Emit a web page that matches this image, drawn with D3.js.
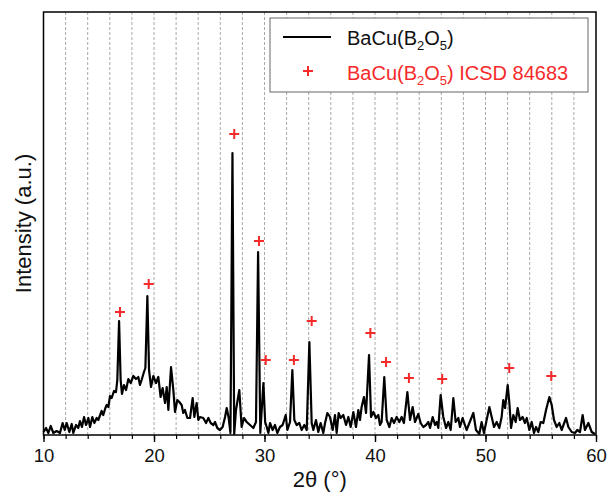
<!DOCTYPE html>
<html>
<head>
<meta charset="utf-8">
<script src="https://cdn.jsdelivr.net/npm/d3@7"></script>
<style>
  body { margin: 0; background: #fff; }
  text { font-family: "Liberation Sans", Arial, sans-serif; }
</style>
</head>
<body>
<div id="chart"></div>
<script>
// measured pattern, 2theta (deg) and intensity (a.u.)
const twoTheta = [
  10.0, 10.23, 10.44, 10.65, 10.89, 11.19, 11.49, 11.73, 11.92, 12.1, 12.34, 12.55, 12.7, 12.94,
  13.15, 13.3, 13.48, 13.67, 13.85, 14.06, 14.21, 14.42, 14.6, 14.81, 14.96, 15.26, 15.41, 15.6,
  15.72, 15.87, 16.02, 16.17, 16.38, 16.56, 16.68, 16.84, 16.98, 17.1, 17.28, 17.47, 17.68, 17.89,
  18.13, 18.37, 18.58, 18.73, 18.88, 19.09, 19.22, 19.4, 19.55, 19.73, 19.94, 20.18, 20.39, 20.6,
  20.78, 21.0, 21.15, 21.3, 21.54, 21.75, 21.9, 22.11, 22.29, 22.5, 22.65, 22.8, 23.02, 23.26,
  23.5, 23.65, 23.86, 24.01, 24.16, 24.46, 24.71, 24.92, 25.13, 25.37, 25.52, 25.73, 25.97, 26.21,
  26.43, 26.58, 26.76, 26.92, 27.1, 27.26, 27.42, 27.72, 27.93, 28.14, 28.39, 28.69, 28.99, 29.23,
  29.42, 29.62, 29.9, 30.06, 30.2, 30.35, 30.5, 30.74, 30.95, 31.16, 31.4, 31.64, 31.92, 32.07,
  32.31, 32.52, 32.7, 32.91, 33.15, 33.36, 33.6, 33.82, 34.06, 34.27, 34.42, 34.66, 34.87, 35.08,
  35.32, 35.48, 35.69, 35.93, 36.17, 36.38, 36.53, 36.71, 36.89, 37.13, 37.38, 37.59, 37.8, 38.04,
  38.28, 38.49, 38.64, 38.79, 39.0, 39.19, 39.46, 39.64, 39.85, 40.09, 40.3, 40.45, 40.6, 40.84,
  41.06, 41.3, 41.51, 41.72, 41.96, 42.2, 42.41, 42.62, 42.93, 43.17, 43.41, 43.62, 43.92, 44.13,
  44.37, 44.62, 44.83, 44.98, 45.22, 45.43, 45.58, 45.73, 45.94, 46.18, 46.43, 46.64, 46.85, 47.09,
  47.3, 47.54, 47.69, 47.93, 48.14, 48.29, 48.54, 48.9, 49.14, 49.44, 49.65, 49.86, 50.35, 50.56,
  50.77, 51.01, 51.25, 51.46, 51.61, 51.77, 52.01, 52.16, 52.31, 52.52, 52.73, 52.91, 53.12, 53.36,
  53.57, 53.73, 53.97, 54.18, 54.39, 54.57, 54.78, 54.99, 55.23, 55.48, 55.78, 55.99, 56.2, 56.44,
  56.68, 56.89, 57.29, 57.5, 57.8, 58.1, 58.31, 58.55, 58.79, 59.0, 59.31, 59.61, 59.91
];
const intensity = [
  3, 7, 2, 9, 2, 4, 2, 12, 5, 12, 3, 11, 2, 10,
  7, 14, 8, 18, 10, 17, 8, 18, 12, 17, 15, 24, 20, 27,
  30, 28, 39, 37, 44, 43, 55, 114, 55, 41, 50, 45, 56, 52,
  59, 56, 58, 50, 55, 63, 67, 139, 65, 48, 59, 52, 58, 38,
  47, 32, 48, 25, 68, 45, 23, 35, 33, 30, 22, 25, 17, 17,
  37, 18, 32, 15, 18, 17, 12, 17, 12, 10, 13, 7, 5, 8,
  18, 27, 17, 2, 282, 1, 25, 45, 8, 17, 13, 10, 7, 13,
  183, 2, 52, 13, 8, 2, 12, 5, 10, 2, 8, 10, 20, 5,
  13, 65, 15, 10, 12, 5, 10, 5, 93, 12, 5, 15, 3, 12,
  2, 12, 22, 18, 5, 20, 2, 22, 17, 20, 10, 18, 8, 23,
  8, 25, 15, 28, 38, 22, 80, 18, 23, 17, 20, 10, 13, 58,
  15, 8, 17, 12, 18, 13, 18, 12, 43, 15, 28, 13, 21, 12,
  8, 10, 13, 7, 18, 10, 13, 7, 40, 18, 7, 13, 5, 37,
  13, 17, 8, 17, 10, 5, 12, 22, 5, 1, 13, 2, 28, 18,
  8, 13, 7, 18, 35, 27, 50, 32, 7, 20, 13, 27, 15, 18,
  12, 17, 5, 13, 2, 8, 3, 13, 12, 25, 38, 30, 15, 8,
  12, 5, 17, 8, 3, 2, 5, 3, 20, 5, 12, 3, 1
];
// reference peaks ICSD 84683
const refTheta = [16.92, 19.52, 27.26, 29.5, 30.11, 32.66, 34.27, 39.58, 41.0, 43.07, 46.08, 52.15, 55.95];
const refIntensity = [123, 151, 301, 194, 75, 75, 114, 102, 73, 57, 56, 67, 59];

const xTicks = [10, 20, 30, 40, 50, 60];

const W = 611, H = 496;
const mLeft = 43.5, mRight = 596, mTop = 12, mBottom = 435;
const red = "#f52a2a";

const svg = d3.select("#chart").append("svg")
  .attr("width", W).attr("height", H);

const x = d3.scaleLinear().domain([10, 60]).range([mLeft, mRight]);
const y = d3.scaleLinear().domain([0, 423]).range([mBottom, mTop]);

// dashed grid every 2 deg
const gridVals = d3.range(12, 60, 2);
svg.append("g").selectAll("line")
  .data(gridVals).enter().append("line")
  .attr("x1", d => x(d)).attr("x2", d => x(d))
  .attr("y1", mTop).attr("y2", mBottom)
  .attr("stroke", "#a8a8a8")
  .attr("stroke-width", 1)
  .attr("stroke-dasharray", "3,2");

// bottom axis: minor ticks every 2, labels at 10s
const minor = svg.append("g")
  .attr("transform", `translate(0,${mBottom})`)
  .call(d3.axisBottom(x).tickValues(d3.range(10, 61, 2)).tickSize(4).tickFormat(""));
minor.select(".domain").remove();
minor.selectAll("line").attr("stroke", "#000").attr("stroke-width", 1.2);

const major = svg.append("g")
  .attr("transform", `translate(0,${mBottom})`)
  .call(d3.axisBottom(x).tickValues(xTicks).tickSize(7).tickPadding(7));
major.select(".domain").remove();
major.selectAll("line").attr("stroke", "#000").attr("stroke-width", 1.4);
major.selectAll("text")
  .attr("font-size", 18.5)
  .attr("fill", "#111")
  .style("font-family", '"Liberation Sans", Arial, sans-serif');

// pattern line
const pts = twoTheta.map((t, i) => [t, intensity[i]]);
const line = d3.line().x(d => x(d[0])).y(d => y(d[1]));
svg.append("path")
  .datum(pts)
  .attr("d", line)
  .attr("fill", "none")
  .attr("stroke", "#000")
  .attr("stroke-width", 2.2)
  .attr("stroke-linejoin", "round");

// reference markers
const plus = "M-5,0H5M0,-5V5";
svg.append("g").selectAll("path")
  .data(refTheta.map((t, i) => [t, refIntensity[i]]))
  .enter().append("path")
  .attr("d", plus)
  .attr("transform", d => `translate(${x(d[0])},${y(d[1])})`)
  .attr("stroke", red)
  .attr("stroke-width", 2)
  .attr("fill", "none");

// frame
svg.append("rect")
  .attr("x", mLeft).attr("y", mTop)
  .attr("width", mRight - mLeft).attr("height", mBottom - mTop)
  .attr("fill", "none")
  .attr("stroke", "#000")
  .attr("stroke-width", 1.5);

// axis titles
svg.append("text")
  .attr("x", (mLeft + mRight) / 2).attr("y", 487)
  .attr("text-anchor", "middle")
  .attr("font-size", 22)
  .attr("fill", "#111")
  .text("2θ (°)");

svg.append("text")
  .attr("transform", `translate(31,${(mTop + mBottom) / 2}) rotate(-90)`)
  .attr("text-anchor", "middle")
  .attr("font-size", 22)
  .attr("fill", "#111")
  .text("Intensity (a.u.)");

// legend
const lg = svg.append("g");
lg.append("rect")
  .attr("x", 270).attr("y", 18)
  .attr("width", 318).attr("height", 74)
  .attr("fill", "#fff")
  .attr("stroke", "#666")
  .attr("stroke-width", 1);
lg.append("line")
  .attr("x1", 283).attr("x2", 331)
  .attr("y1", 37).attr("y2", 37)
  .attr("stroke", "#000").attr("stroke-width", 2);
lg.append("path")
  .attr("d", plus)
  .attr("transform", "translate(308,71)")
  .attr("stroke", red).attr("stroke-width", 2).attr("fill", "none");

function formula(g, yy, color, suffix) {
  const t = g.append("text")
    .attr("x", 347).attr("y", yy)
    .attr("font-size", 20)
    .attr("fill", color);
  t.append("tspan").text("BaCu(B");
  t.append("tspan").attr("dy", 5).attr("font-size", 13).text("2");
  t.append("tspan").attr("dy", -5).text("O");
  t.append("tspan").attr("dy", 5).attr("font-size", 13).text("5");
  t.append("tspan").attr("dy", -5).text(")" + suffix);
}
formula(lg, 45, "#111", "");
formula(lg, 80, red, " ICSD 84683");
</script>
</body>
</html>
